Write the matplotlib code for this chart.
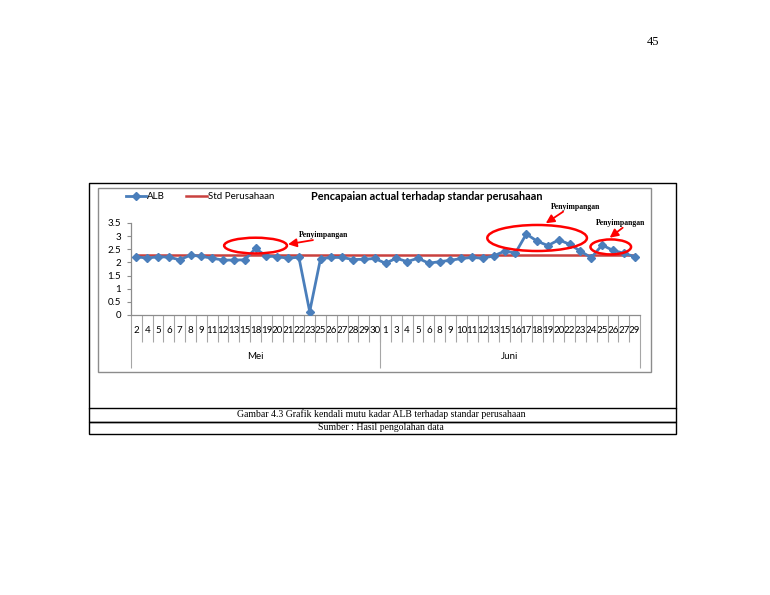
import numpy as np
import matplotlib.pyplot as plt
from matplotlib.patches import Ellipse, Rectangle
from matplotlib.lines import Line2D
from matplotlib.ticker import FuncFormatter

# Data
mei_days = ['2', '4', '5', '6', '7', '8', '9', '11', '12', '13', '15', '18', '19', '20',
            '21', '22', '23', '25', '26', '27', '28', '29', '30']
juni_days = ['1', '3', '4', '5', '6', '8', '9', '10', '11', '12', '13', '15', '16', '17',
             '18', '19', '20', '22', '23', '24', '25', '26', '27', '29']
alb_mei = [2.22, 2.16, 2.22, 2.20, 2.10, 2.28, 2.23, 2.16, 2.09, 2.09, 2.10, 2.53,
           2.24, 2.22, 2.16, 2.20, 0.13, 2.14, 2.19, 2.19, 2.11, 2.12, 2.15]
alb_juni = [1.97, 2.16, 2.03, 2.16, 1.97, 2.03, 2.08, 2.15, 2.19, 2.16, 2.25, 2.43,
            2.36, 3.08, 2.81, 2.64, 2.86, 2.69, 2.43, 2.18, 2.66, 2.46, 2.35, 2.22]
std_perusahaan = 2.3
months = ['Mei', 'Juni']

days = mei_days + juni_days
alb = alb_mei + alb_juni
x = np.arange(len(days))

W, H = 770, 595
fig = plt.figure(figsize=(W / 100, H / 100), dpi=100)

# page layer in pixel coordinates
bg = fig.add_axes([0, 0, 1, 1], zorder=0)
bg.set_xlim(0, W)
bg.set_ylim(H, 0)
bg.axis('off')
serif = ['Liberation Serif', 'DejaVu Serif']
bg.text(653, 42, '45', fontsize=9, family=serif, ha='center', va='center')
# outer frame and chart frame
bg.plot([88.5, 88.5, 676, 676], [407.5, 182.5, 182.5, 407.5], color='black', lw=1)
bg.add_patch(Rectangle((97.7, 188.3), 553.3, 183.5, fill=False, ec='#8c8c8c', lw=1))
# caption table
bg.add_patch(Rectangle((88.5, 407.5), 587, 14.2, fill=False, ec='black', lw=1))
bg.add_patch(Rectangle((88.5, 421.7), 587, 12.5, fill=False, ec='black', lw=1))
bg.text(381, 414.6, 'Gambar 4.3 Grafik kendali mutu kadar ALB terhadap standar perusahaan',
        fontsize=7, family=serif, ha='center', va='center')
bg.text(381, 428, 'Sumber : Hasil pengolahan data',
        fontsize=7, family=serif, ha='center', va='center')

# chart axes
left, right, top, bottom = 131, 640, 223, 315
ax = fig.add_axes([left / W, 1 - bottom / H, (right - left) / W, (bottom - top) / H], zorder=1)
ax.patch.set_alpha(0)
sans = ['Lato', 'DejaVu Sans']

ax.hlines(std_perusahaan, x[0], x[-1], color='#c9413f', lw=1.8, zorder=2)
ax.plot(x, alb, color='#4a7ebb', lw=2, marker='D', markersize=4.2, zorder=3)

ax.set_xlim(-0.5, len(days) - 0.5)
ax.set_ylim(0, 3.5)
ax.set_yticks(np.arange(0, 3.51, 0.5))
ax.yaxis.set_major_formatter(FuncFormatter(lambda v, p: f'{v:g}'))
ax.tick_params(axis='y', labelsize=7, length=3, color='#8c8c8c', pad=4)
ax.set_xticks(x)
ax.set_xticklabels(days, fontsize=7, family=sans)
ax.tick_params(axis='x', length=0, pad=8)
for lab in ax.get_yticklabels():
    lab.set_family(sans)
for s in ['top', 'right']:
    ax.spines[s].set_visible(False)
for s in ['left', 'bottom']:
    ax.spines[s].set_color('#8c8c8c')
    ax.spines[s].set_linewidth(0.9)

# multi-level category axis
px = 1 / (bottom - top)
tr = ax.get_xaxis_transform()
ax.vlines(x[:-1] + 0.5, 0, -26.7 * px, transform=tr, color='#a6a6a6', lw=0.8, clip_on=False)
n_mei = len(mei_days)
bounds = [-0.5, n_mei - 0.5, len(days) - 0.5]
ax.vlines(bounds, 0, -53.3 * px, transform=tr, color='#a6a6a6', lw=0.8, clip_on=False)
for i, m in enumerate(months):
    ax.text((bounds[i] + bounds[i + 1]) / 2, -41.7 * px, m, transform=tr,
            fontsize=7, family=sans, ha='center', va='center')

# title and legend
ax.text(427, 197, 'Pencapaian actual terhadap standar perusahaan', transform=bg.transData,
        fontsize=7.8, fontweight='bold', family=sans, ha='center', va='center')
handles = [Line2D([], [], color='#4a7ebb', lw=2, marker='D', markersize=4.2),
           Line2D([], [], color='#c9413f', lw=1.8)]
fig.legend(handles, ['ALB', 'Std Perusahaan'], ncol=2, frameon=False,
           prop={'family': sans, 'size': 7}, handlelength=2.1, handletextpad=0.1,
           columnspacing=2.2, loc='center left', bbox_to_anchor=(117 / W, 1 - 197 / H))

# deviation markings
red = '#ff0000'
ellipses = [(11.0, 2.64, 5.8, 0.6), (37.0, 2.93, 9.2, 0.99), (43.8, 2.59, 3.75, 0.57)]
for cx, cy, w, h in ellipses:
    ax.add_patch(Ellipse((cx, cy), w, h, fill=False, ec=red, lw=1.8, clip_on=False, zorder=4))
notes = [((14.0, 2.69), (16.3, 2.85), (15.0, 3.05)),
         ((37.8, 3.49), (39.4, 3.93), (38.3, 4.12)),
         ((43.7, 2.94), (44.9, 3.32), (42.4, 3.49))]
for tip, tail, txt in notes:
    ax.annotate('', xy=tip, xytext=tail, annotation_clip=False,
                arrowprops=dict(arrowstyle='-|>,head_length=0.5,head_width=0.25',
                                color=red, lw=1.3, shrinkA=0, shrinkB=0))
    ax.text(txt[0], txt[1], 'Penyimpangan', fontsize=5.6, family=serif,
            fontweight='bold', ha='left', va='center', clip_on=False)

fig.savefig('out.png', dpi=100)
